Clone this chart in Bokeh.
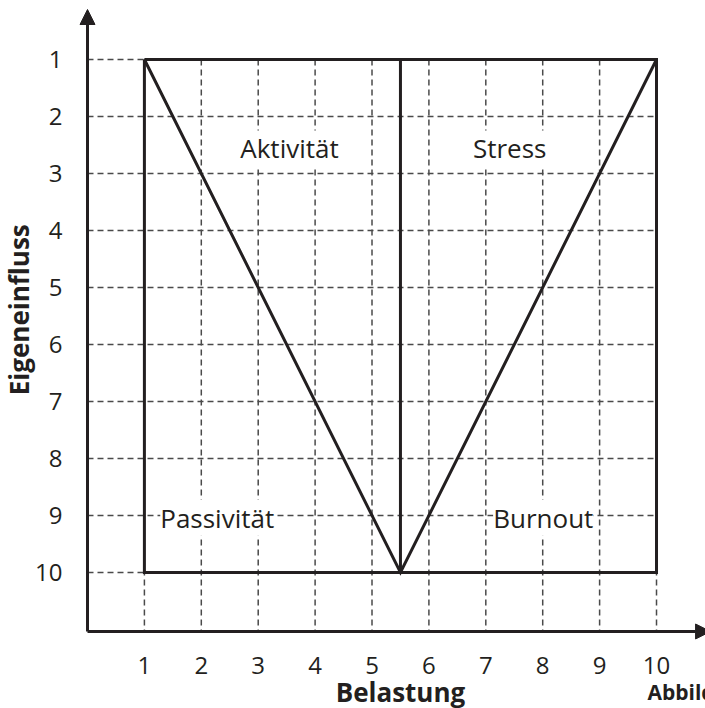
from bokeh.plotting import figure
from bokeh.models import Range1d, FixedTicker, Label, Arrow, NormalHead
from bokeh.embed import file_html
from bokeh.resources import INLINE

# ---- data ----
x_ticks = [1, 2, 3, 4, 5, 6, 7, 8, 9, 10]
y_ticks = [1, 2, 3, 4, 5, 6, 7, 8, 9, 10]
box_x = [1, 10, 10, 1, 1]
box_y = [1, 1, 10, 10, 1]
v_x = [1, 5.5, 10]
v_y = [1, 10, 1]
divider_x = [5.5, 5.5]
divider_y = [1, 10]
quadrant_names = ["Aktivität", "Stress", "Passivität", "Burnout"]
x_title = "Belastung"
y_title = "Eigeneinfluss"
caption = "Abbildung"

INK = "#231f20"
GRID = "#4a4a4a"
FONT = "Open Sans"

AXIS_Y = 11.035   # where the x axis sits (data units)
AXIS_X = 0.0      # where the y axis sits

p = figure(width=705, height=708, output_backend="svg", toolbar_location=None,
           x_range=Range1d(-1.529, 10.861), y_range=Range1d(12.386, -0.035),
           min_border_left=0, min_border_right=0, min_border_top=0, min_border_bottom=0)
p.outline_line_color = None
p.xgrid.visible = False
p.ygrid.visible = False
p.background_fill_color = "white"
p.border_fill_color = "white"

# dashed grid
p.segment(x0=[AXIS_X] * len(y_ticks), y0=y_ticks, x1=[max(x_ticks)] * len(y_ticks), y1=y_ticks,
          line_color=GRID, line_width=1.5, line_dash="6 4")
p.segment(x0=x_ticks, y0=[min(y_ticks)] * len(x_ticks), x1=x_ticks, y1=[AXIS_Y] * len(x_ticks),
          line_color=GRID, line_width=1.5, line_dash="6 4")

# solid structure
p.line(box_x, box_y, line_color=INK, line_width=3, line_join="miter")
p.line(v_x, v_y, line_color=INK, line_width=3, line_join="miter")
p.line(divider_x, divider_y, line_color=INK, line_width=3)

# axes (tick labels only; lines drawn as arrows)
p.xaxis.fixed_location = AXIS_Y
p.yaxis.fixed_location = AXIS_X
for ax, ticks in ((p.xaxis, x_ticks), (p.yaxis, y_ticks)):
    ax.ticker = FixedTicker(ticks=ticks)
    ax.major_tick_line_color = None
    ax.minor_tick_line_color = None
    ax.major_tick_out = 0
    ax.major_tick_in = 0
    ax.minor_tick_out = 0
    ax.axis_line_color = None
    ax.major_label_text_font = FONT
    ax.major_label_text_font_size = "24px"
    ax.major_label_text_color = INK
p.xaxis.major_label_standoff = 26
p.yaxis.major_label_standoff = 25

# axis lines with arrow heads
p.add_layout(Arrow(end=NormalHead(size=15, fill_color=INK, line_color=INK, line_width=1),
                   x_start=AXIS_X, y_start=AXIS_Y, x_end=AXIS_X, y_end=0.123,
                   line_color=INK, line_width=3))
p.add_layout(Arrow(end=NormalHead(size=15, fill_color=INK, line_color=INK, line_width=1),
                   x_start=AXIS_X, y_start=AXIS_Y, x_end=10.95, y_end=AXIS_Y,
                   line_color=INK, line_width=3))

# quadrant labels
q_pos = [(3.55, 2.56), (7.42, 2.56), (2.28, 9.04), (8.01, 9.04)]
for name, (qx, qy) in zip(quadrant_names, q_pos):
    p.add_layout(Label(x=qx, y=qy, text=name, text_align="center", text_baseline="middle",
                       text_font=FONT, text_font_size="26px", text_color=INK,
                       background_fill_color="white"))

# titles
p.add_layout(Label(x=5.5, y=12.09, text=x_title, text_align="center", text_baseline="alphabetic",
                   text_font=FONT, text_font_style="bold", text_font_size="26px", text_color=INK))
p.add_layout(Label(x=-1.21, y=5.39, text=y_title, angle=1.5708, text_align="center",
                   text_baseline="middle", text_font=FONT, text_font_style="bold",
                   text_font_size="26px", text_color=INK))
p.add_layout(Label(x=9.84, y=12.09, text=caption, text_align="left", text_baseline="alphabetic",
                   text_font=FONT, text_font_style="bold", text_font_size="21px", text_color=INK))

open("out.html", "w").write(file_html(p, INLINE))
